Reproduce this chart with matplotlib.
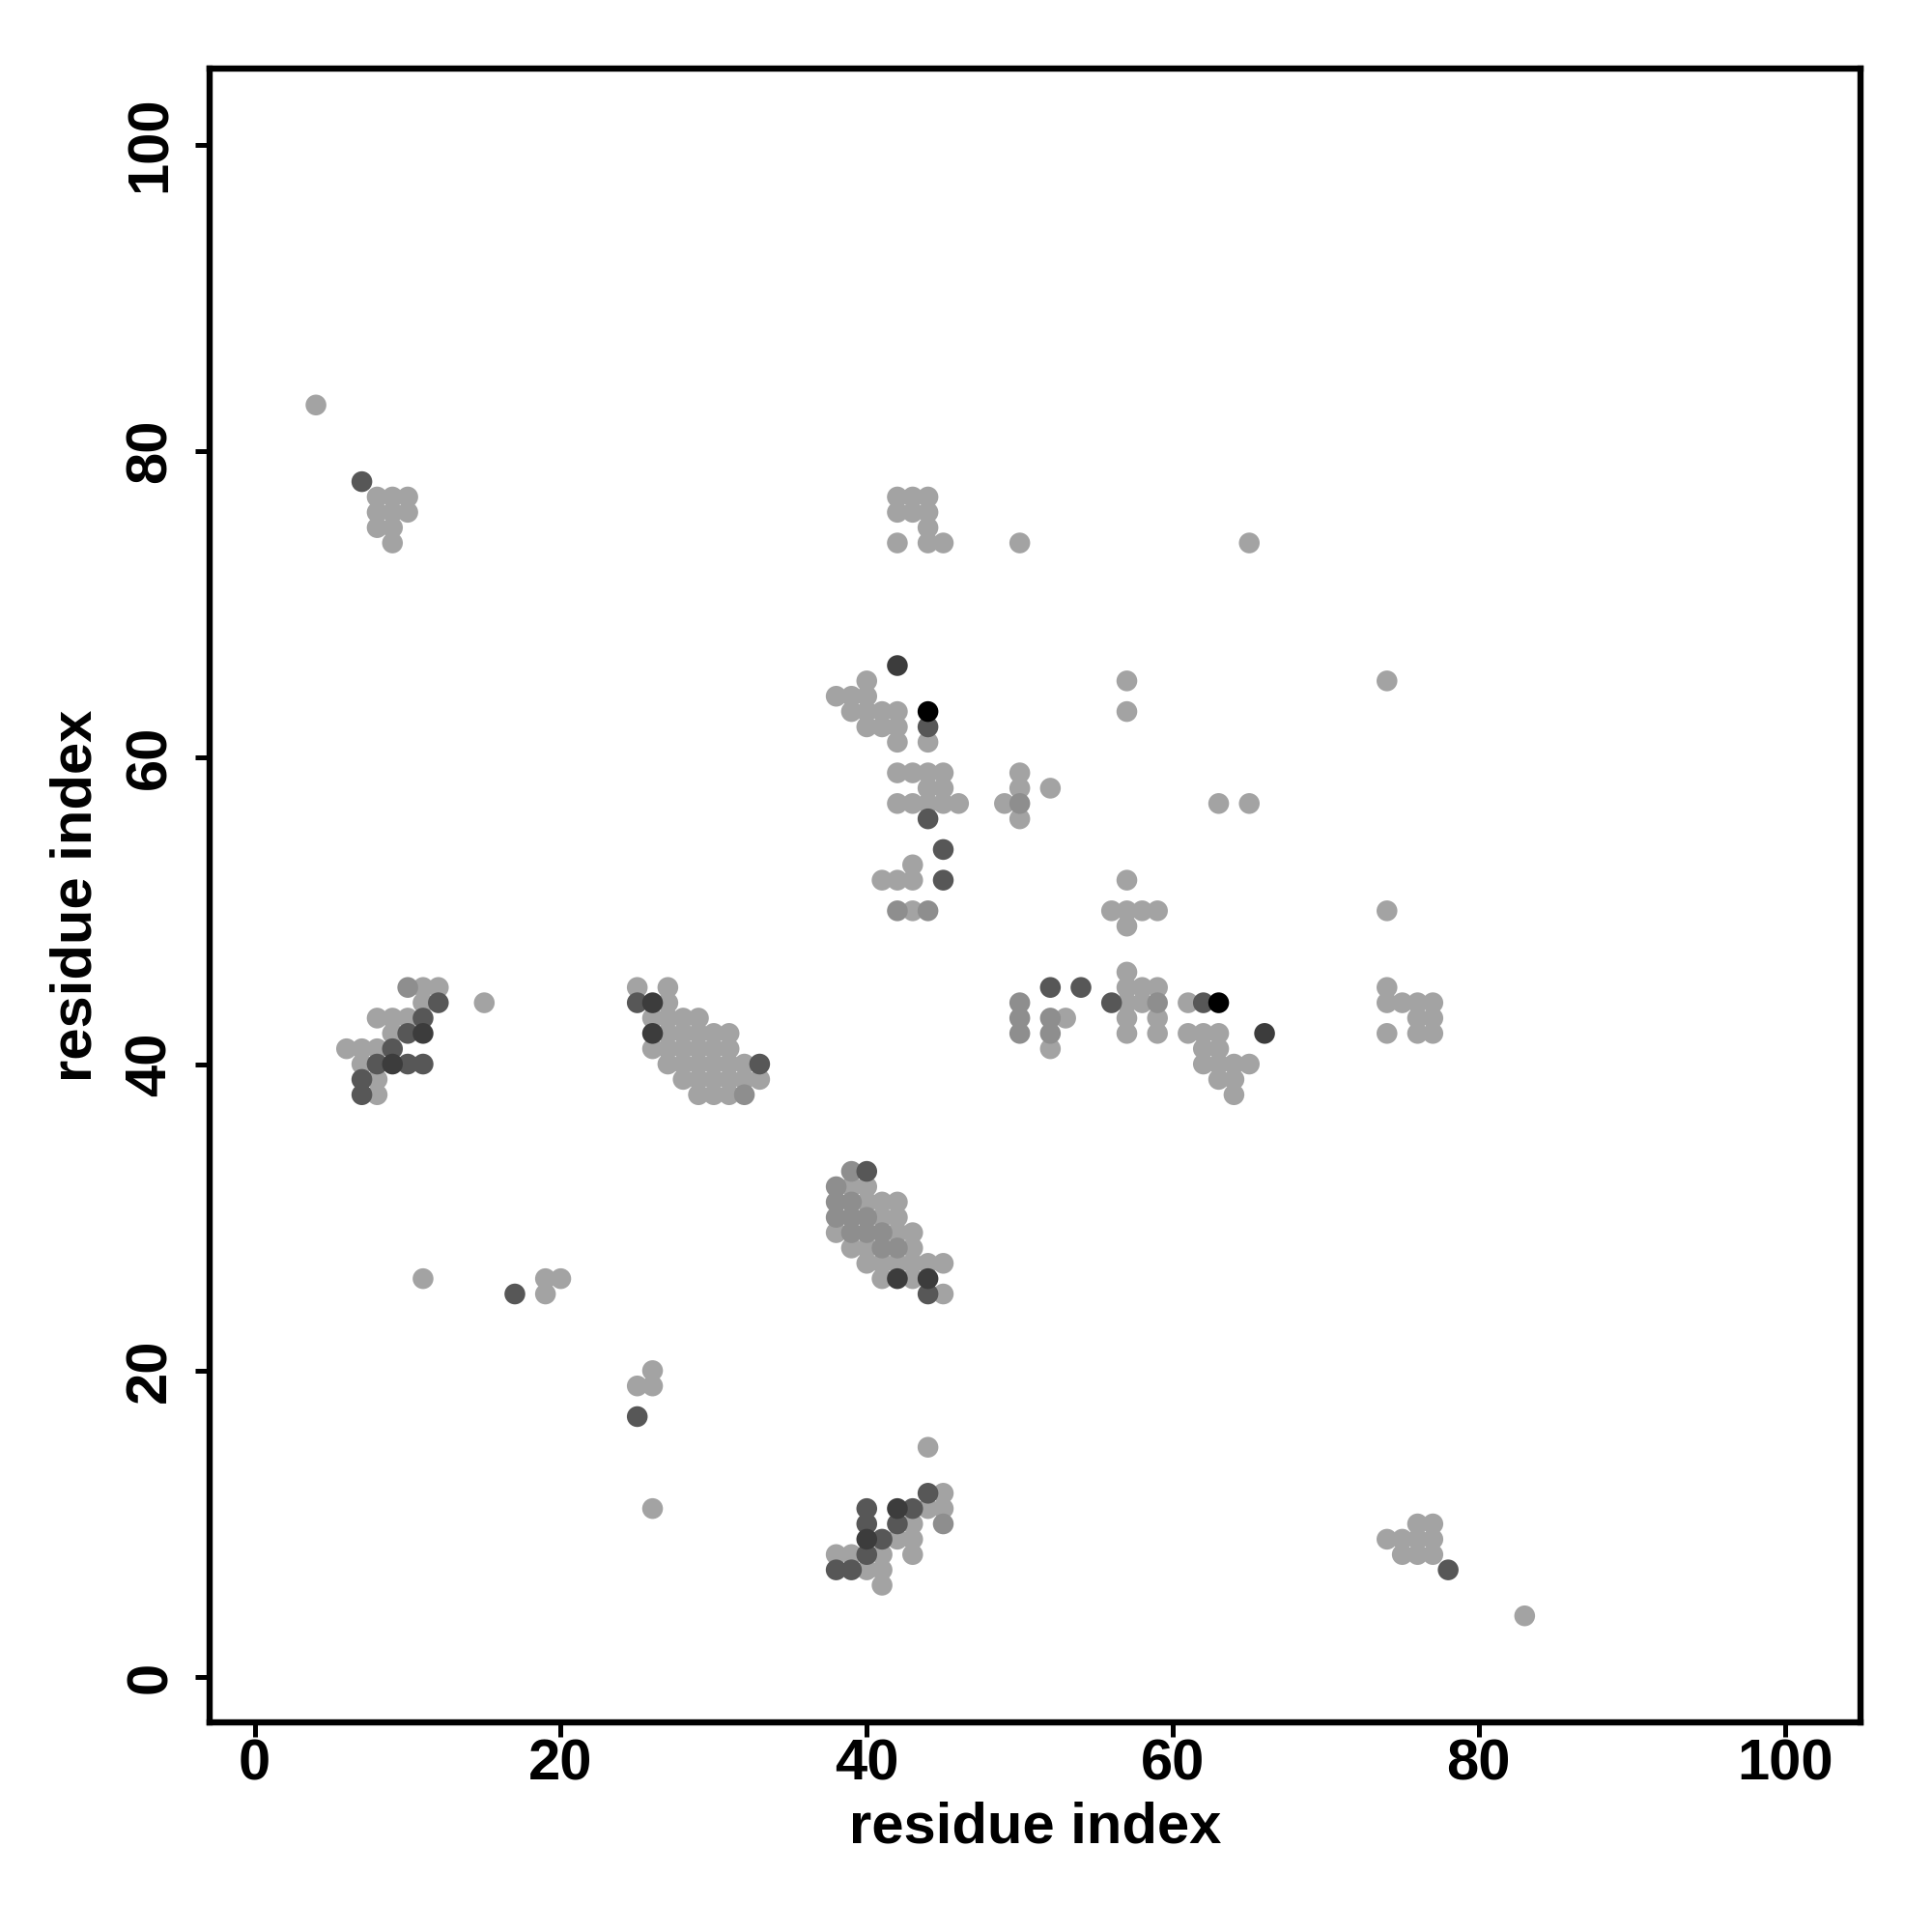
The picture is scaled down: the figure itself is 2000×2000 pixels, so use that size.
import matplotlib
matplotlib.use("Agg")
import matplotlib.pyplot as plt

# Contact points grouped by grey shade (x = residue index, y = residue index)
light_pts = [
    # cluster near (8-12, 38-45)
    (11, 45), (12, 45), (11, 44), (15, 44), (8, 43), (9, 43), (10, 43), (9, 42),
    (6, 41), (7, 41), (8, 41), (7, 40), (8, 39), (8, 38),
    # cluster near (25-33, 38-45)
    (25, 45), (27, 45), (27, 44), (26, 43), (27, 43), (28, 43), (29, 43),
    (27, 42), (28, 42), (29, 42), (30, 42), (31, 42),
    (26, 41), (27, 41), (28, 41), (29, 41), (30, 41), (31, 41),
    (27, 40), (28, 40), (29, 40), (30, 40), (31, 40), (32, 40),
    (28, 39), (29, 39), (30, 39), (31, 39), (32, 39), (33, 39), (29, 38), (30, 38), (31, 38),
    # cluster near (38-45, 25-33)
    (39, 32), (40, 32), (40, 31), (41, 31), (42, 31), (41, 30), (42, 30),
    (38, 29), (42, 29), (43, 29), (39, 28), (40, 28), (43, 28),
    (40, 27), (41, 27), (42, 27), (43, 27), (44, 27), (45, 27),
    (41, 26), (43, 26), (45, 25),
    # cluster near (38-45, 6-15)
    (44, 15), (45, 12), (44, 11), (45, 11), (43, 10), (42, 9), (43, 9),
    (38, 8), (39, 8), (41, 8), (43, 8), (40, 7), (41, 7), (41, 6),
    # cluster near (38-52, 50-65)
    (40, 65), (38, 64), (39, 64), (40, 64), (39, 63), (40, 63), (41, 63), (42, 63),
    (40, 62), (41, 62), (42, 62), (42, 61), (44, 61),
    (42, 59), (43, 59), (44, 59), (45, 59), (50, 59), (44, 58), (45, 58), (50, 58), (52, 58),
    (42, 57), (43, 57), (44, 57), (45, 57), (46, 57), (49, 57), (50, 56),
    (43, 53), (41, 52), (42, 52), (43, 52), (43, 50),
    # cluster near (42-45, 74-77)
    (42, 77), (43, 77), (44, 77), (42, 76), (43, 76), (44, 76), (44, 75),
    (42, 74), (44, 74), (45, 74),
    # cluster near (50-66, 38-52)
    (57, 52), (56, 50), (57, 50), (58, 50), (59, 50), (57, 49), (57, 46),
    (57, 45), (58, 45), (59, 45), (57, 44), (58, 44), (61, 44),
    (53, 43), (57, 43), (59, 43), (57, 42), (59, 42), (61, 42), (62, 42), (63, 42),
    (52, 41), (62, 41), (63, 41), (62, 40), (63, 40), (64, 40), (65, 40),
    (63, 39), (64, 39), (64, 38),
    # cluster near (8-10, 74-77)
    (8, 77), (9, 77), (10, 77), (8, 76), (9, 76), (10, 76), (8, 75), (9, 75), (9, 74),
    # cluster near (74-77, 8-10)
    (76, 10), (77, 10), (74, 9), (75, 9), (76, 9), (77, 9), (75, 8), (76, 8), (77, 8),
    # cluster near (74-77, 42-45)
    (74, 45), (74, 44), (75, 44), (76, 44), (77, 44), (76, 43), (77, 43),
    (74, 42), (76, 42), (77, 42),
    # isolated contacts
    (4, 83), (50, 74), (65, 74), (57, 65), (57, 63), (74, 65), (63, 57), (65, 57),
    (74, 50), (11, 26), (19, 26), (20, 26), (19, 25), (26, 20), (25, 19), (26, 19),
    (26, 11), (83, 4),
]

medium_pts = [
    (10, 45), (32, 38),
    (39, 33), (38, 32), (38, 31), (39, 31), (38, 30), (39, 30), (40, 30),
    (39, 29), (40, 29), (41, 29), (41, 28), (42, 28),
    (45, 10), (50, 57), (42, 50), (44, 50),
    (50, 44), (59, 44), (50, 43), (52, 43), (50, 42), (52, 42),
]

dark_pts = [
    (12, 44), (11, 43), (10, 42), (9, 41), (8, 40), (10, 40), (11, 40), (7, 39), (7, 38),
    (25, 44), (33, 40), (40, 33), (44, 25),
    (44, 12), (40, 11), (43, 11), (40, 10), (42, 10), (41, 9), (40, 8), (38, 7), (39, 7),
    (44, 62), (44, 56), (45, 54), (45, 52),
    (52, 45), (54, 45), (56, 44), (62, 44),
    (7, 78), (78, 7), (17, 25), (25, 17),
]

darker_pts = [
    (11, 42), (9, 40), (26, 44), (26, 42), (42, 26), (44, 26), (42, 11), (40, 9),
    (42, 66), (66, 42),
]

black_pts = [(44, 63), (63, 44)]

groups = [
    (light_pts, "#a3a3a3"),
    (medium_pts, "#8e8e8e"),
    (dark_pts, "#575757"),
    (darker_pts, "#3c3c3c"),
    (black_pts, "#000000"),
]

x_ticks = [0, 20, 40, 60, 80, 100]
y_ticks = [0, 20, 40, 60, 80, 100]
x_label = "residue index"
y_label = "residue index"

plt.rcParams["font.family"] = ["Liberation Sans", "DejaVu Sans"]

fig = plt.figure(figsize=(10, 10), dpi=200)
ax = fig.add_axes([0.1085, 0.1085, 0.8545, 0.856])

for pts, col in groups:
    xs = [p[0] for p in pts]
    ys = [p[1] for p in pts]
    ax.scatter(xs, ys, s=60, c=col, edgecolors="none", zorder=3)

ax.set_xlim(-2.95, 104.95)
ax.set_ylim(-2.95, 104.95)
ax.set_xticks(x_ticks)
ax.set_yticks(y_ticks)
ax.set_xticklabels([str(t) for t in x_ticks], fontweight="bold")
ax.set_yticklabels([str(t) for t in y_ticks], fontweight="bold",
                   rotation=90, va="center")
ax.tick_params(axis="both", direction="out", length=5.5, width=1.8,
               labelsize=21.5, colors="black")
ax.tick_params(axis="x", pad=0.5)
ax.tick_params(axis="y", pad=6.5)

for sp in ax.spines.values():
    sp.set_linewidth(2.3)
    sp.set_color("black")

ax.set_xlabel(x_label, fontsize=21.5, fontweight="bold", va="center")
ax.set_ylabel(y_label, fontsize=21.5, fontweight="bold", va="center")
ax.xaxis.set_label_coords(0.5, -0.0637)
ax.yaxis.set_label_coords(-0.081, 0.5)

fig.savefig("out.png", dpi=200, facecolor="white")
